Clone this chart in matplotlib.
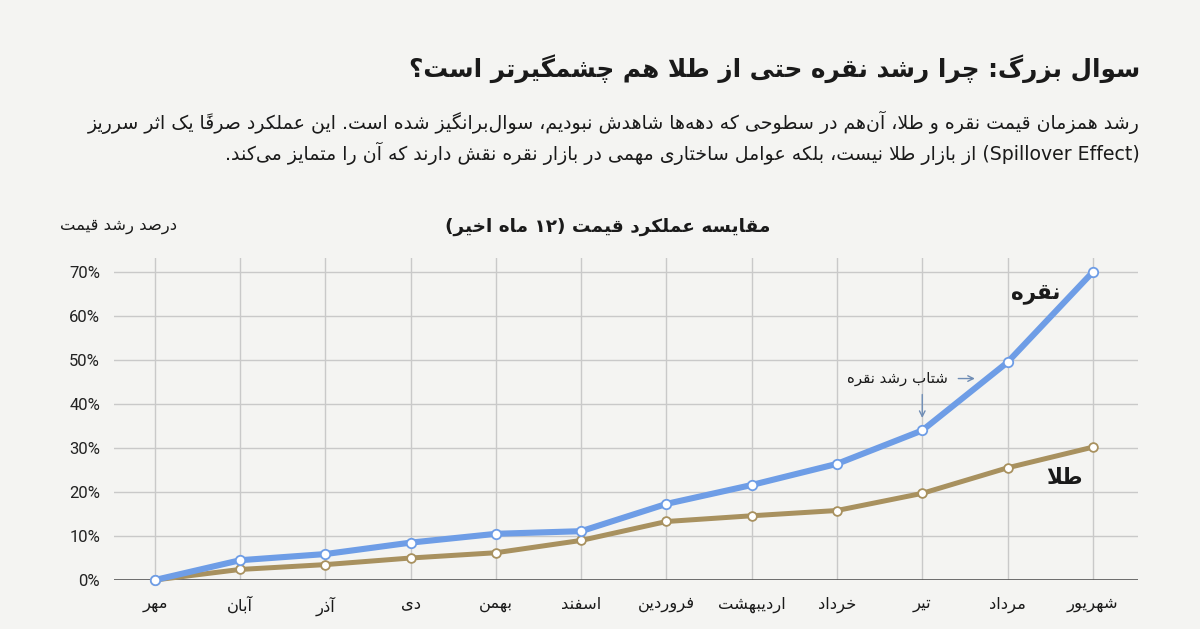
import numpy as np
import matplotlib
matplotlib.use("Agg")
from matplotlib import pyplot as plt

# ---- data (percent growth over the last 12 months) ----
months = ['مهر', 'آبان', 'آذر', 'دی', 'بهمن', 'اسفند', 'فروردین',
          'اردیبهشت', 'خرداد', 'تیر', 'مرداد', 'شهریور']
silver = [0, 4.5, 5.9, 8.5, 10.5, 11.1, 17.3, 21.6, 26.4, 34.0, 49.5, 70.0]
gold = [0, 2.4, 3.5, 5.0, 6.2, 9.0, 13.3, 14.6, 15.8, 19.7, 25.5, 30.2]
yticks = [0, 10, 20, 30, 40, 50, 60, 70]

title = 'سوال بزرگ: چرا رشد نقره حتی از طلا هم چشمگیرتر است؟'
sub1 = ('رشد همزمان قیمت نقره و طلا، آن\u200cهم در سطوحی که دهه\u200cها شاهدش نبودیم، '
        'سوال\u200cبرانگیز شده است. این عملکرد صرفاً یک اثر سرریز')
sub2 = ('(Spillover Effect) از بازار طلا نیست، بلکه عوامل ساختاری مهمی '
        'در بازار نقره نقش دارند که آن را متمایز می\u200cکند.')
chart_title = 'مقایسه عملکرد قیمت (۱۲ ماه اخیر)'
ylabel = 'درصد رشد قیمت'
silver_name = 'نقره'
gold_name = 'طلا'
note = 'شتاب رشد نقره'

BG = '#f4f4f2'
BLUE = '#6e9de6'
GOLD = '#a8915f'
INK = '#1a1a1a'

# ---- minimal Persian shaping + bidi (matplotlib has no complex text layout) ----
# letter: (isolated, final, initial, medial); two entries = right-joining only
FORMS = {
    'ء': (0xFE80,), 'آ': (0xFE81, 0xFE82), 'أ': (0xFE83, 0xFE84),
    'ئ': (0xFE89, 0xFE8A, 0xFE8B, 0xFE8C), 'ا': (0xFE8D, 0xFE8E),
    'ب': (0xFE8F, 0xFE90, 0xFE91, 0xFE92), 'ة': (0xFE93, 0xFE94),
    'ت': (0xFE95, 0xFE96, 0xFE97, 0xFE98), 'ث': (0xFE99, 0xFE9A, 0xFE9B, 0xFE9C),
    'ج': (0xFE9D, 0xFE9E, 0xFE9F, 0xFEA0), 'ح': (0xFEA1, 0xFEA2, 0xFEA3, 0xFEA4),
    'خ': (0xFEA5, 0xFEA6, 0xFEA7, 0xFEA8), 'د': (0xFEA9, 0xFEAA),
    'ذ': (0xFEAB, 0xFEAC), 'ر': (0xFEAD, 0xFEAE), 'ز': (0xFEAF, 0xFEB0),
    'س': (0xFEB1, 0xFEB2, 0xFEB3, 0xFEB4), 'ش': (0xFEB5, 0xFEB6, 0xFEB7, 0xFEB8),
    'ص': (0xFEB9, 0xFEBA, 0xFEBB, 0xFEBC), 'ض': (0xFEBD, 0xFEBE, 0xFEBF, 0xFEC0),
    'ط': (0xFEC1, 0xFEC2, 0xFEC3, 0xFEC4), 'ظ': (0xFEC5, 0xFEC6, 0xFEC7, 0xFEC8),
    'ع': (0xFEC9, 0xFECA, 0xFECB, 0xFECC), 'غ': (0xFECD, 0xFECE, 0xFECF, 0xFED0),
    'ف': (0xFED1, 0xFED2, 0xFED3, 0xFED4), 'ق': (0xFED5, 0xFED6, 0xFED7, 0xFED8),
    'ل': (0xFEDD, 0xFEDE, 0xFEDF, 0xFEE0), 'م': (0xFEE1, 0xFEE2, 0xFEE3, 0xFEE4),
    'ن': (0xFEE5, 0xFEE6, 0xFEE7, 0xFEE8), 'ه': (0xFEE9, 0xFEEA, 0xFEEB, 0xFEEC),
    'و': (0xFEED, 0xFEEE), 'ی': (0xFBFC, 0xFBFD, 0xFBFE, 0xFBFF),
    'ک': (0xFB8E, 0xFB8F, 0xFB90, 0xFB91), 'گ': (0xFB92, 0xFB93, 0xFB94, 0xFB95),
    'پ': (0xFB56, 0xFB57, 0xFB58, 0xFB59), 'چ': (0xFB7A, 0xFB7B, 0xFB7C, 0xFB7D),
    'ژ': (0xFB8A, 0xFB8B),
}
LAM_ALEF = {'ا': (0xFEFB, 0xFEFC), 'آ': (0xFEF5, 0xFEF6), 'أ': (0xFEF7, 0xFEF8)}
MARKS = set('\u064b\u064c\u064d\u064e\u064f\u0650\u0651\u0652')
MIRROR = {'(': ')', ')': '(', '[': ']', ']': '[', '«': '»', '»': '«'}


def joins_next(c):
    return c in FORMS and len(FORMS[c]) == 4


def joins_prev(c):
    return c in FORMS and len(FORMS[c]) >= 2


def shape(s):
    base = [c for c in s]
    out = []  # list of clusters (glyph string)
    i = 0
    n = len(base)

    def prev_letter(k):
        k -= 1
        while k >= 0 and base[k] in MARKS:
            k -= 1
        return base[k] if k >= 0 else None

    def next_letter(k):
        k += 1
        while k < n and base[k] in MARKS:
            k += 1
        return base[k] if k < n else None

    while i < n:
        c = base[i]
        if c in MARKS:
            if out:
                out[-1] += c
            else:
                out.append(c)
            i += 1
            continue
        if c == '\u200c':
            i += 1
            continue
        p = prev_letter(i)
        jp = p is not None and joins_next(p) and joins_prev(c)
        if c == 'ل' and next_letter(i) in LAM_ALEF:
            j = i + 1
            while base[j] in MARKS:
                j += 1
            lig = LAM_ALEF[base[j]]
            out.append(chr(lig[1] if jp else lig[0]))
            i = j + 1
            continue
        if c in FORMS:
            f = FORMS[c]
            nx = next_letter(i)
            jn = joins_next(c) and nx is not None and joins_prev(nx)
            if jp and jn:
                g = f[3]
            elif jp:
                g = f[1]
            elif jn:
                g = f[2]
            else:
                g = f[0]
            out.append(chr(g))
        else:
            out.append(c)
        i += 1
    return out


def bidi_type(cl):
    c = cl[0]
    if '\u06f0' <= c <= '\u06f9' or '0' <= c <= '9':
        return 'D'
    if c.isascii() and c.isalpha():
        return 'L'
    o = ord(c)
    if 0x0600 <= o <= 0x06FF or 0xFB50 <= o <= 0xFEFF:
        return 'R'
    return 'N'


def fa(s):
    cl = shape(s)
    t = [bidi_type(c) for c in cl]
    strong = ['R' if x == 'D' else x for x in t]
    res = list(t)
    for k, x in enumerate(t):
        if x != 'N':
            continue
        a = next((strong[j] for j in range(k - 1, -1, -1) if strong[j] != 'N'), 'R')
        b = next((strong[j] for j in range(k + 1, len(t)) if strong[j] != 'N'), 'R')
        res[k] = 'L' if (a == 'L' and b == 'L') else 'R'
    # group into segments: LTR blocks (L or digits) and single RTL clusters
    segs = []
    k = 0
    while k < len(cl):
        if res[k] in 'LD':
            kind = res[k]
            j = k
            while j < len(cl) and res[j] == kind:
                j += 1
            segs.append(''.join(cl[k:j]))
            k = j
        else:
            c = cl[k]
            segs.append(MIRROR.get(c, c))
            k += 1
    return ''.join(reversed(segs))


# ---- figure ----
plt.rcParams['font.family'] = ['DejaVu Sans']
fig = plt.figure(figsize=(12, 6.29), dpi=100, facecolor=BG)
ax = fig.add_axes([0.095, 0.0779, 0.8533, 0.5119])
ax.set_facecolor(BG)

x = np.arange(len(months))
ax.plot(x, gold, color=GOLD, lw=3.6, marker='o', ms=6.3, mfc='white',
        mec=GOLD, mew=1.3, solid_capstyle='round', zorder=3, clip_on=False)
ax.plot(x, silver, color=BLUE, lw=4.4, marker='o', ms=6.8, mfc='white',
        mec=BLUE, mew=1.3, solid_capstyle='round', zorder=4, clip_on=False)

ax.set_xlim(-0.48, 11.53)
ax.set_ylim(0, 73.2)
ax.set_xticks(x)
ax.set_xticklabels([fa(m) for m in months], fontsize=11.8, color=INK)
ax.set_yticks(yticks)
ax.set_yticklabels(['%d%%' % v for v in yticks], fontsize=12, color='#222222',
                   fontfamily='Roboto')
ax.tick_params(length=0, pad=10)
ax.tick_params(axis='x', pad=12)

for v in yticks[1:]:
    ax.axhline(v, color='#c9c9c9', lw=1.0, zorder=1)
ax.axhline(0, color='#555555', lw=1.2, zorder=2)
for xi in x:
    ax.axvline(xi, color='#c9c9c9', lw=1.0, zorder=1)
for sp in ax.spines.values():
    sp.set_visible(False)

# series labels and annotation
ax.text(10.33, 65.0, fa(silver_name), fontsize=15.5, fontweight='bold', color=INK,
        ha='center', va='center')
ax.text(10.67, 23.3, fa(gold_name), fontsize=15.5, fontweight='bold', color=INK,
        ha='center', va='center')
ax.text(9.3, 45.8, fa(note), fontsize=10.8, color=INK, ha='right', va='center')
ax.annotate('', xy=(9.65, 45.8), xytext=(9.39, 45.8),
            arrowprops=dict(arrowstyle='->', color='#6f8db5', lw=1.0))
ax.annotate('', xy=(9.0, 36.2), xytext=(9.0, 42.8),
            arrowprops=dict(arrowstyle='->', color='#6f8db5', lw=1.0))

# headings
fig.text(1140 / 1200, 1 - 69 / 629, fa(title), fontsize=17.7, fontweight='bold',
         color=INK, ha='right', va='center')
fig.text(1140 / 1200, 1 - 122 / 629, fa(sub1), fontsize=13.6, color=INK,
         ha='right', va='center')
fig.text(1140 / 1200, 1 - 153 / 629, fa(sub2), fontsize=13.6, color=INK,
         ha='right', va='center')
fig.text(608 / 1200, 1 - 227 / 629, fa(chart_title), fontsize=13.3, fontweight='bold',
         color=INK, ha='center', va='center')
fig.text(177 / 1200, 1 - 227 / 629, fa(ylabel), fontsize=11.8, color=INK,
         ha='right', va='center')

fig.savefig('out.png', dpi=100, facecolor=BG)
